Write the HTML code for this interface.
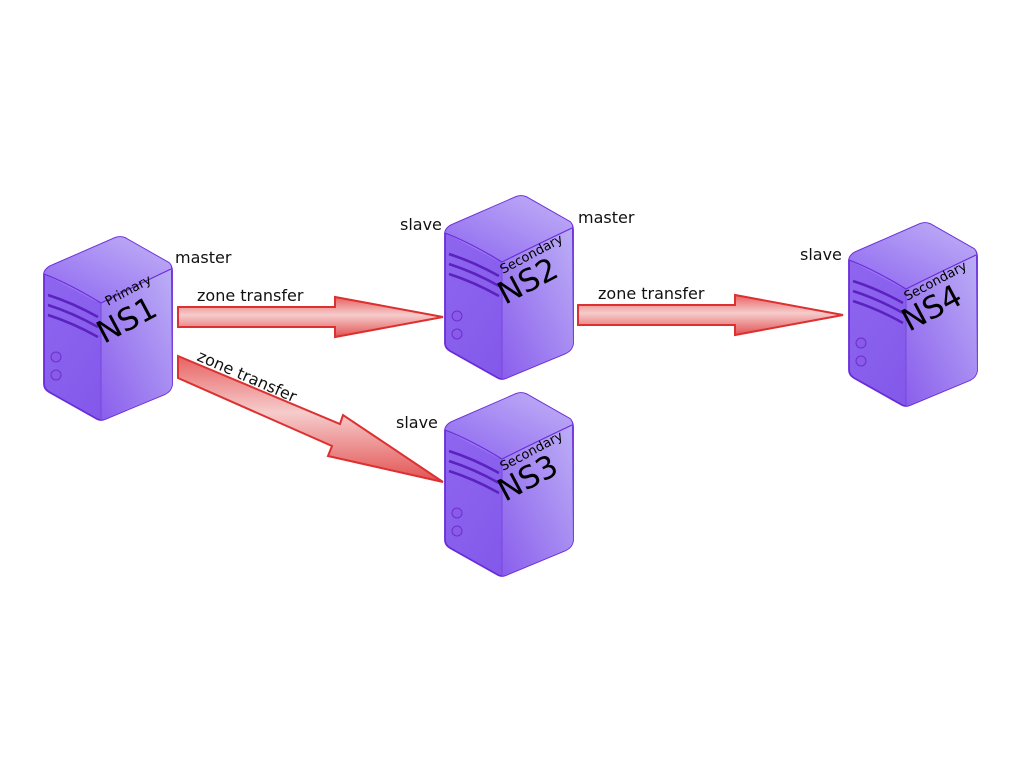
<!DOCTYPE html>
<html><head><style>
html,body{margin:0;padding:0;background:#fff;width:1024px;height:768px;overflow:hidden}
text{font-family:"DejaVu Sans","Liberation Sans",sans-serif}
</style></head><body>
<svg width="1024" height="768" viewBox="0 0 1024 768" xmlns="http://www.w3.org/2000/svg">
<defs>
<linearGradient id="top" x1="0" y1="1" x2="1" y2="0"><stop offset="0" stop-color="#8e66f0"/><stop offset="1" stop-color="#c8bcf8"/></linearGradient>
<linearGradient id="left" x1="0" y1="0" x2="1" y2="1"><stop offset="0" stop-color="#9068f0"/><stop offset="1" stop-color="#7e52e8"/></linearGradient>
<linearGradient id="right" x1="0" y1="1" x2="1" y2="0"><stop offset="0" stop-color="#8a5eec"/><stop offset="1" stop-color="#bcaef6"/></linearGradient>
<linearGradient id="arr" x1="0" y1="0" x2="0" y2="1"><stop offset="0" stop-color="#e86262"/><stop offset="0.45" stop-color="#f6cccc"/><stop offset="1" stop-color="#e25252"/></linearGradient>
<g id="srv">
  <path d="M1,39 Q2,33 10,30 L72,3 Q77,1 82,3 L126,28 Q129,31 129,36 L129,150 Q128,156 122,159 L62,184 Q58,186 54,184 L6,157 Q1,154 1,149 Z" fill="url(#left)" stroke="#6a2bd8" stroke-width="1.8"/>
  <path d="M1,39 Q2,33 10,30 L72,3 Q77,1 82,3 L126,28 Q129,31 128,36 L64,66 Q58,69 52,66 Z" fill="url(#top)" opacity="0.9"/>
  <path d="M58,67 L128,34 L129,150 Q128,156 122,159 L62,184 L58,185 Z" fill="url(#right)"/>
  <path d="M1,39 Q25,48 58,68 Q90,52 128,34" fill="none" stroke="#6a2bd8" stroke-width="1.2"/>
  <line x1="58" y1="68" x2="58" y2="185" stroke="#7a45e0" stroke-width="1"/>
  <path d="M5,60 Q30,68 55,82 M5,70 Q30,78 55,92 M5,80 Q30,88 55,102" fill="none" stroke="#5b22c0" stroke-width="2.5"/>
  <circle cx="13" cy="122" r="5" fill="#8a5ae8" stroke="#6a30d0"/>
  <circle cx="13" cy="140" r="5" fill="#8a5ae8" stroke="#6a30d0"/>
</g>
<path id="arrow" d="M0,-10 L157,-10 L157,-20 L265,0 L157,20 L157,10 L0,10 Z" fill="url(#arr)" stroke="#dd3030" stroke-width="2"/>
</defs>

<use href="#srv" x="43" y="235"/>
<use href="#srv" x="444" y="194"/>
<use href="#srv" x="444" y="391"/>
<use href="#srv" x="848" y="221"/>

<g fill="#000">
<text transform="translate(108,306) rotate(-28)" font-size="13">Primary</text>
<text transform="translate(104,344) rotate(-28)" font-size="31">NS1</text>
<text transform="translate(503,274) rotate(-28)" font-size="13">Secondary</text>
<text transform="translate(505,305) rotate(-28)" font-size="31">NS2</text>
<text transform="translate(503,471) rotate(-28)" font-size="13">Secondary</text>
<text transform="translate(505,502) rotate(-28)" font-size="31">NS3</text>
<text transform="translate(907,301) rotate(-28)" font-size="13">Secondary</text>
<text transform="translate(909,332) rotate(-28)" font-size="31">NS4</text>
</g>

<use href="#arrow" transform="translate(178,317)"/>
<use href="#arrow" transform="translate(578,315)"/>
<path d="M178,356 L340,424 L343,415 L443,482 L328,456 L332,446 L178,378 Z" fill="url(#arr)" stroke="#dd3030" stroke-width="2"/>

<g font-size="16" fill="#111">
<text x="175" y="263">master</text>
<text x="197" y="301">zone transfer</text>
<text x="400" y="230">slave</text>
<text x="578" y="223">master</text>
<text x="598" y="299">zone transfer</text>
<text x="800" y="260">slave</text>
<text x="396" y="428">slave</text>
<text transform="translate(196,360) rotate(23.5)">zone transfer</text>
</g>
</svg>
</body></html>
